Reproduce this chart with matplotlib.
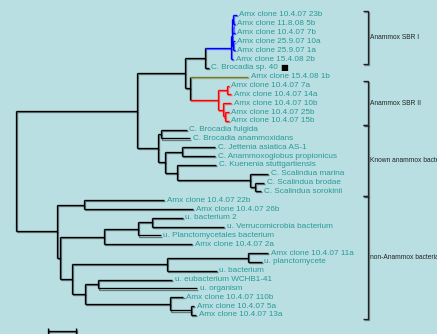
import matplotlib
matplotlib.use("Agg")
import matplotlib.pyplot as plt
import matplotlib.patheffects as pe

# ---------------- data ----------------
LEAF_LABELS = [
    "Amx clone 10.4.07 23b", "Amx clone 11.8.08 5b", "Amx clone 10.4.07 7b",
    "Amx clone 25.9.07 10a", "Amx clone 25.9.07 1a", "Amx clone 15.4.08 2b",
    "C. Brocadia sp. 40", "Amx clone 15.4.08 1b", "Amx clone 10.4.07 7a",
    "Amx clone 10.4.07 14a", "Amx clone 10.4.07 10b", "Amx clone 10.4.07 25b",
    "Amx clone 10.4.07 15b", "C. Brocadia fulgida", "C. Brocadia anammoxidans",
    "C. Jettenia asiatica AS-1", "C. Anammoxoglobus propionicus",
    "C. Kuenenia stuttgartiensis", "C. Scalindua marina", "C. Scalindua brodae",
    "C. Scalindua sorokinii", "Amx clone 10.4.07 22b", "Amx clone 10.4.07 26b",
    "u. bacterium 2", "u. Verrucomicrobia bacterium", "u. Planctomycetales bacterium",
    "Amx clone 10.4.07 2a", "Amx clone 10.4.07 11a", "u. planctomycete",
    "u. bacterium", "u. eubacterium WCHB1-41", "u. organism",
    "Amx clone 10.4.07 110b", "Amx clone 10.4.07 5a", "Amx clone 10.4.07 13a",
]

# Newick pieces (leaf numbers index LEAF_LABELS, branch lengths in subst./site)
SBR_I = "((((0:0.0063,1:0.0027):0.0009,2:0.0036):0.0009,(3:0.0027,4:0.0027):0.0018):0.0018,5:0.0036)"
SBR_I_PLUS = "(" + SBR_I + ":0.0464,6:0.0063)"
SBR_II = "((8:0.0030,9:0.0077):0.0161,(10:0.0154,(11:0.0071,12:0.0071):0.0036):0.0084)"
SBR_II_PLUS = "(7:0.1036," + SBR_II + ":0.0500)"
SBR_ALL = "(" + SBR_I_PLUS + ":0.0357," + SBR_II_PLUS + ":0.0089)"
KNOWN = ("((13:0.0464,14:0.0523):0.0043,((15:0.0595,16:0.0595):0.0298,"
         "(17:0.0691,(18:0.0321,(19:0.0161,20:0.0107):0.0089):0.1298):0.0220):0.0120)")
ANAMMOX = "(" + SBR_ALL + ":0.0863," + KNOWN + ":0.0386)"
NON_A1 = "(21:0.1429,22:0.1941)"
NON_A3 = "(((23:0.0554,24:0.1291):0.0239,25:0.0400):0.0607,26:0.1561)"
NON_A7 = "((27:0.0357,28:0.0239):0.1457,29:0.0893)"
NON_A9 = "((30:0.1321,31:0.1768):0.0227,(32:0.0238,(33:0.0059,34:0.0084):0.0375):0.1518)"
NON_A6 = "(" + NON_A7 + ":0.1696," + NON_A9 + ":0.0238)"
NON_ANAMMOX = "(" + NON_A1 + ":0.0482,(" + NON_A3 + ":0.0791," + NON_A6 + ":0.0209):0.0048)"
TREE = "(" + ANAMMOX + ":0.2155," + NON_ANAMMOX + ":0.0738);"

CLADE_COLORS = {"#0000ff": [0, 1, 2, 3, 4, 5],
                "#ff0000": [8, 9, 10, 11, 12],
                "#7a7a28": [7]}

GROUP_NAMES = ["Anammox SBR I", "Anammox SBR II", "Known anammox bacteria", "non-Anammox bacteria"]
GROUP_FIRST = [0, 8, 13, 21]
GROUP_LAST = [5, 12, 20, 34]

MARKED_LEAF = 6
SCALE_BAR = 0.05

# ---------------- styles ----------------
BG = "#b9dfe2"
LABEL_COLOR = "#2a9a97"
LW = 0.95
SHADOW = (0.8, -0.8)
FONT = "Liberation Sans"


def parse(s):
    pos = 0

    def node():
        nonlocal pos
        children = []
        leaf = None
        if s[pos] == "(":
            pos += 1
            children.append(node())
            while s[pos] == ",":
                pos += 1
                children.append(node())
            pos += 1  # ')'
        else:
            st = pos
            while s[pos] not in ":,);":
                pos += 1
            leaf = int(s[st:pos])
        bl = 0.0
        if s[pos] == ":":
            pos += 1
            st = pos
            while s[pos] not in ",);":
                pos += 1
            bl = float(s[st:pos])
        return {"leaf": leaf, "children": children, "bl": bl}

    return node()


root = parse(TREE)


def layout(n, depth):
    n["x"] = depth + n["bl"]
    if n["leaf"] is not None:
        n["y"] = n["leaf"]
        n["leaves"] = {n["leaf"]}
    else:
        for c in n["children"]:
            layout(c, n["x"])
        n["y"] = (n["children"][0]["y"] + n["children"][-1]["y"]) / 2
        n["leaves"] = set().union(*[c["leaves"] for c in n["children"]])


root["bl"] = 0.0
layout(root, 0.0)


def color_of(n):
    for col, lv in CLADE_COLORS.items():
        if n["leaves"] <= set(lv):
            return col
    return "black"


fig = plt.figure(figsize=(4.37, 3.34), dpi=100, facecolor=BG)
ax = fig.add_axes([0, 0, 1, 1])
ax.set_facecolor(BG)
ax.set_xlim(-0.0286, 0.7518)
ax.set_ylim(36.17, -1.70)
ax.axis("off")


def seg(xs, ys, col):
    ax.plot(xs, ys, color=col, lw=LW, solid_capstyle="butt",
            path_effects=[pe.SimpleLineShadow(offset=SHADOW, shadow_color=col, alpha=0.45),
                          pe.Normal()])


marked_text = None


def draw(n, parent_x):
    global marked_text
    col = color_of(n)
    if parent_x is not None:
        seg([parent_x, n["x"]], [n["y"], n["y"]], col)
    if n["leaf"] is not None:
        t = ax.annotate(LEAF_LABELS[n["leaf"]], xy=(n["x"], n["y"]), xytext=(2.0, 0),
                        textcoords="offset points", va="center", ha="left",
                        fontsize=5.9, family=FONT, color=LABEL_COLOR)
        if n["leaf"] == MARKED_LEAF:
            marked_text = t
    else:
        seg([n["x"], n["x"]], [n["children"][0]["y"], n["children"][-1]["y"]], col)
        for c in n["children"]:
            draw(c, n["x"])


draw(root, None)

if marked_text is not None:
    ax.annotate("\u25a0", xy=(1, 0.5), xycoords=marked_text, xytext=(1.2, 0),
                textcoords="offset points", va="center", ha="left",
                fontsize=6, family="DejaVu Sans", color="black")

# group brackets
BX = 0.628
TICK = 0.008
for name, a, b in zip(GROUP_NAMES, GROUP_FIRST, GROUP_LAST):
    y0, y1 = a - 0.5, b + 0.5
    seg([BX - TICK, BX, BX, BX - TICK], [y0, y0, y1, y1], "#222222")
    ax.text(BX + 0.0035, (y0 + y1) / 2, name, va="center", ha="left",
            fontsize=4.8, family=FONT, color="#222222")

# scale bar
sx0, sy = 0.0566, 35.79
seg([sx0, sx0 + SCALE_BAR], [sy, sy], "black")
seg([sx0, sx0], [sy - 0.34, sy + 0.34], "black")
seg([sx0 + SCALE_BAR, sx0 + SCALE_BAR], [sy - 0.34, sy + 0.34], "black")

fig.savefig("out.png", dpi=100, facecolor=BG)
